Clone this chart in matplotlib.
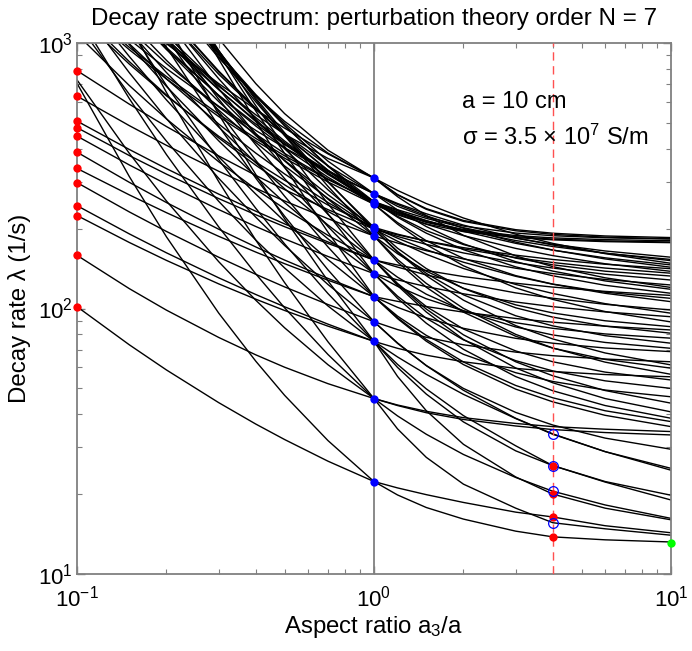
import matplotlib
matplotlib.use("Agg")
import matplotlib.pyplot as plt
from matplotlib.ticker import LogLocator, NullFormatter

plt.rcParams["font.family"] = ["Liberation Sans", "DejaVu Sans"]
plt.rcParams["mathtext.fontset"] = "custom"
plt.rcParams["mathtext.rm"] = "Liberation Sans"
plt.rcParams["mathtext.it"] = "Liberation Sans:italic"
plt.rcParams["mathtext.default"] = "regular"

# ── DATA ────────────────────────────────────────────────────────────────────
ASPECT = [0.1, 0.15, 0.2, 0.3, 0.4, 0.5, 0.7, 1, 1.2, 1.5, 2, 3, 4, 6, 10]

# branches grouped by the sphere decay rate they pass through at a3/a = 1
BR_22 = [
    [101.6, 73.0, 58.7, 44.2, 36.7, 32.1, 26.6, 22.3, 19.85, 17.8, 16.1, 14.5, 13.8, 13.45, 13.2],
    [705, 314.1, 186.3, 96.1, 63.3, 47.1, 31.8, 22.3, 21.1, 19.9, 18.6, 17.1, 16.4, 15.2, 14.3],
]
BR_46 = [
    [158.6, 118.8, 98.6, 77.8, 66.9, 60.1, 52.1, 45.8, 43.3, 41.0, 38.8, 36.9, 35.9, 35.1, 34.4],
    [2891, 1180, 651.6, 300.5, 180.9, 125.2, 74.9, 45.8, 35.2, 27.5, 21.8, 17.7, 15.6, 14.8, 14.0],
    [1291, 617.5, 380.1, 202.9, 135.0, 100.6, 67.1, 45.8, 39.4, 33.6, 28.2, 23.1, 20.5, 18.2, 16.2],
    [726, 384.2, 254.2, 150.1, 107.4, 84.6, 61.4, 45.8, 43.1, 40.5, 38.2, 36.1, 35.0, 34.1, 33.4],
]
BR_75 = [
    [224, 177.3, 151.8, 123.8, 108.4, 98.3, 85.8, 75.2, 70.8, 66.7, 63.0, 59.5, 57.9, 56.4, 55.3],
    [244, 191.0, 162.1, 130.5, 112.9, 101.5, 87.3, 75.2, 65.7, 56.5, 47.5, 38.5, 33.6, 28.9, 24.6],
    [5321, 2163, 1187, 538.6, 319.5, 217.8, 127.0, 75.2, 55.5, 41.2, 30.8, 23.2, 20.0, 17.7, 16.0],
    [2377, 1132, 692.3, 363.7, 238.4, 175.1, 113.8, 75.2, 61.6, 49.8, 39.5, 30.4, 25.6, 22.2, 19.0],
    [1191, 641.0, 427.1, 253.3, 181.0, 142.2, 102.2, 75.2, 60.0, 47.6, 37.4, 29.1, 25.6, 22.3, 19.8],
]
BR_89 = [
    [298, 231.1, 195.1, 156.0, 134.5, 120.6, 103.5, 89.2, 83.3, 77.9, 73.0, 68.5, 66.4, 64.5, 63.0],
    [3548, 1623, 964.3, 486.4, 309.7, 222.6, 139.8, 89.2, 74.2, 60.9, 49.2, 38.6, 33.7, 28.9, 25.0],
    [1413, 772.9, 519.1, 309.3, 220.7, 172.8, 123.1, 89.2, 73.9, 61.0, 50.0, 40.6, 36.4, 32.5, 29.5],
]
BR_111 = [
    [337, 267.9, 229.6, 187.0, 163.1, 147.5, 127.8, 110.8, 101.0, 92.2, 84.2, 77.2, 74.0, 71.0, 68.8],
    [388, 298.7, 250.7, 198.9, 170.5, 152.2, 129.8, 110.8, 106.4, 101.7, 96.9, 91.7, 88.8, 85.8, 83.0],
    [8810, 3569, 1945, 868.6, 507.5, 340.9, 193.7, 110.8, 91.6, 75.3, 61.5, 49.7, 44.5, 39.6, 35.9],
    [3508, 1699, 1047, 552.4, 361.5, 264.9, 170.5, 110.8, 92.3, 76.4, 62.9, 51.3, 46.1, 41.2, 37.5],
    [1567, 889.4, 610.6, 372.9, 269.6, 212.9, 152.8, 110.8, 93.6, 79.2, 67.2, 57.3, 53.1, 49.3, 46.5],
]
BR_135 = [
    [446, 347.3, 294, 235.8, 203.6, 182.9, 157.0, 135.3, 128.2, 120.9, 113.6, 105.8, 101.6, 97.1, 93.1],
    [7603, 3329, 1908, 909.8, 554.1, 383.8, 227.2, 135.3, 109.3, 88.0, 70.2, 55.4, 49.0, 43.1, 38.6],
    [3396, 1742, 1113, 614.3, 413.3, 308.5, 203.5, 135.3, 111.3, 91.9, 76.2, 63.6, 58.2, 53.4, 50.0],
    [1702, 986.1, 686.8, 428.1, 314.0, 250.6, 182.9, 135.3, 121.2, 108.8, 98.0, 88.4, 84.2, 80.2, 77.3],
]
BR_152 = [
    [480, 376.8, 320.8, 259.4, 225.4, 203.3, 175.7, 152.3, 143.2, 133.8, 124.4, 114.5, 109.3, 103.7, 98.7],
    [508, 397.2, 336.4, 269.7, 232.5, 208.3, 178.1, 152.3, 145.8, 139.0, 131.9, 124.5, 120.4, 116.0, 112.0],
    [1079, 691.7, 517.8, 357.1, 281.5, 237.6, 188.6, 152.3, 131.2, 113.2, 98.0, 85.2, 79.5, 74.5, 70.8],
    [7638, 3356, 1937, 938.4, 580.5, 407.8, 247.9, 152.3, 122.0, 97.0, 76.5, 59.7, 52.5, 45.8, 40.8],
    [3828, 1932, 1225, 672.9, 453.2, 339.5, 226.1, 152.3, 123.5, 99.5, 79.6, 63.0, 55.8, 49.1, 44.0],
    [1919, 1111, 774.3, 482.5, 353.9, 282.5, 206.2, 152.3, 124.3, 101.7, 83.7, 69.2, 63.0, 57.6, 53.8],
]
BR_188 = [
    [631, 488.4, 411.8, 328.8, 283.4, 254.1, 217.8, 187.6, 176.4, 165.1, 153.7, 141.8, 135.4, 128.6, 122.6],
    [1327, 850.9, 637, 439, 346.2, 292.3, 232, 187.6, 160.8, 138.2, 119.2, 103.2, 96.2, 89.9, 85.4],
    [5929, 2872, 1770, 933.8, 611.1, 447.7, 288.3, 187.6, 153.0, 124.3, 100.1, 79.9, 71.0, 62.8, 56.5],
    [2648, 1503, 1032, 630.5, 455.8, 359.9, 258.2, 187.6, 149.8, 120.2, 96.9, 78.6, 70.9, 64.3, 59.6],
]
BR_199 = [
    [787, 588.4, 484.7, 375.5, 317.2, 280.4, 235.7, 199, 189.4, 179.6, 169.5, 158.8, 153.0, 146.8, 141.2],
    [1581, 993.3, 732.8, 495.3, 384.8, 321.2, 250.7, 199, 179.2, 160.1, 141.5, 123.2, 113.9, 104.3, 96.0],
    [5610, 2774, 1734, 933.3, 619.7, 459.1, 300.6, 199, 163.1, 132.9, 107.5, 86.2, 76.8, 68.0, 61.3],
    [3540, 1898, 1256, 733.5, 515.9, 399.6, 279.9, 199, 164.0, 135.6, 112.6, 93.9, 86.0, 79.0, 74.0],
    [1991, 1201, 860.8, 558.7, 421.8, 344.3, 259.8, 199, 186.8, 174.4, 161.9, 148.9, 142.0, 134.6, 128.0],
]
BR_202 = [
    [1274, 833.1, 632.5, 445.3, 356.0, 303.9, 245.3, 202, 190.6, 179.3, 167.7, 155.5, 149.0, 142.0, 135.8],
    [5070, 2557, 1622, 890.9, 600.2, 449.5, 299.4, 202, 168.7, 141.4, 119.0, 100.6, 92.8, 85.8, 80.7],
    [2265, 1339, 946.1, 601.7, 447.7, 361.4, 268.2, 202, 184.0, 166.5, 149.4, 132.2, 123.4, 114.1, 106.1],
]
BR_247 = [
    [1390, 943.5, 732.3, 528.4, 428.2, 368.3, 299.6, 247, 225.3, 208.1, 194.8, 185.0, 181.4, 178.6, 177.0],
    [4932, 2506, 1611, 913.3, 634.7, 489.4, 343.3, 247, 207.9, 174.1, 144.9, 119.6, 108.2, 97.4, 89.0],
    [3491, 1917, 1296, 784.6, 568.7, 451.9, 330.3, 247, 210.7, 180.0, 154.4, 133.0, 123.6, 115.2, 109.2],
    [2203, 1334, 962.6, 634.6, 486.6, 402.9, 312.2, 247, 227.3, 207.7, 188.2, 168.4, 158.2, 147.4, 138.0],
    [2472, 1491, 1069, 693.7, 523.7, 427.4, 322.6, 247, 230.7, 214.1, 197.5, 180.3, 171.2, 161.5, 153.0],
]
BR_253 = [
    [1419, 963.3, 747.6, 539.4, 437.1, 376.0, 305.8, 252.5, 229.9, 212.2, 198.4, 188.2, 184.5, 181.7, 180.0],
    [5035, 2515, 1605, 906.0, 630.4, 487.6, 345.1, 252.5, 220.6, 192.2, 166.6, 143.5, 132.8, 122.3, 114.1],
    [3565, 1925, 1292, 778.3, 564.8, 450.3, 332.1, 252.5, 222.5, 196.5, 174.1, 154.8, 146.1, 138.2, 132.5],
    [2523, 1472, 1039, 668.7, 506.0, 415.6, 319.6, 252.5, 233.2, 214.2, 195.3, 176.0, 165.9, 155.2, 145.9],
    [1786, 1126, 836.6, 574.3, 453.3, 383.8, 307.5, 252.5, 235.5, 218.5, 201.5, 183.9, 174.6, 164.7, 156.0],
    [2249, 1384, 1007, 667.1, 510.7, 421.5, 323.6, 252.5, 229.2, 211.0, 196.8, 186.4, 182.6, 179.7, 178.0],
]
BR_271 = [
    [1521, 1032, 801.1, 578.0, 468.4, 402.9, 327.7, 270.6, 242.6, 221.1, 204.4, 192.4, 188.0, 184.6, 182.7],
    [5395, 2607, 1639, 916.6, 639.1, 497.9, 358.8, 270.6, 235.0, 203.5, 175.3, 150.1, 138.3, 127.0, 118.1],
    [3404, 1845, 1246, 762.9, 562.3, 454.9, 344.4, 270.6, 246.6, 223.5, 200.7, 177.8, 166.0, 153.7, 143.0],
    [2148, 1305, 948.3, 635.1, 494.8, 415.5, 330.4, 270.6, 248.7, 227.4, 206.1, 184.6, 173.4, 161.6, 151.4],
]
BR_310 = [
    [1954, 1300, 994.7, 703.3, 561.6, 477.9, 382.2, 310, 268.6, 237.8, 214.6, 198.1, 192.1, 187.6, 185.0],
    [8318, 3470, 2009, 1039, 702.9, 542.0, 394.5, 310, 263.8, 223.8, 188.6, 157.8, 143.8, 130.5, 120.0],
    [4909, 2389, 1522, 879.0, 632.3, 506.9, 384.8, 310, 278.5, 248.4, 219.2, 190.5, 175.9, 160.9, 148.0],
    [2460, 1446, 1035, 687.1, 536.3, 453.6, 367.3, 310, 267.8, 236.4, 212.9, 196.2, 190.2, 185.7, 183.0],
]

# marked points
DISK_RATES = [787, 631, 508, 480, 446, 388, 337, 298, 244, 224, 158.6, 101.6]   # a3/a = 0.1
SPHERE_RATES = [310, 270.6, 252.5, 247, 202, 199, 187.6, 152.3, 135.3,
                110.8, 89.2, 75.2, 45.8, 22.3]                                  # a3/a = 1
X_CHECK = 4
CHECK_RED = [25.6, 20.0, 16.4, 13.8]
CHECK_BLUE = [33.6, 25.6, 20.5, 15.6]
CYL_LIMIT = 13.1                                                                 # a3/a = 10

# ── PLOT ────────────────────────────────────────────────────────────────────
fig = plt.figure(figsize=(6.92, 6.51), dpi=100)
ax = fig.add_axes([77 / 692, 77 / 651, 594 / 692, 531 / 651])

for group in [BR_22, BR_46, BR_75, BR_89, BR_111, BR_135, BR_152,
              BR_188, BR_199, BR_202, BR_247, BR_253, BR_271, BR_310]:
    for rates in group:
        ax.plot(ASPECT, rates, color="black", lw=1.0, zorder=2)

ax.axvline(1, color="#808080", lw=1.3, zorder=3)
ax.axvline(X_CHECK, color="#ff5050", lw=1.0, ls=(0, (6, 4)), zorder=3)

ax.plot([0.1] * len(DISK_RATES), DISK_RATES, "o", color="red", ms=6,
        mec="none", clip_on=False, zorder=5)
ax.plot([1] * len(SPHERE_RATES), SPHERE_RATES, "o", color="blue", ms=6,
        mec="none", clip_on=False, zorder=5)
ax.plot([X_CHECK] * len(CHECK_RED), CHECK_RED, "o", color="red", ms=6,
        mec="none", zorder=5)
ax.plot([X_CHECK] * len(CHECK_BLUE), CHECK_BLUE, "o", mfc="none", mec="blue",
        mew=0.9, ms=7, zorder=6)
ax.plot([10], [CYL_LIMIT], "o", color="#00ff00", ms=6, mec="none",
        clip_on=False, zorder=5)

ax.set_xscale("log")
ax.set_yscale("log")
ax.set_xlim(0.1, 10)
ax.set_ylim(10, 1000)
ax.xaxis.set_major_locator(LogLocator(base=10, numticks=5))
ax.yaxis.set_major_locator(LogLocator(base=10, numticks=5))
ax.xaxis.set_minor_locator(LogLocator(base=10, subs=range(2, 10), numticks=20))
ax.yaxis.set_minor_locator(LogLocator(base=10, subs=range(2, 10), numticks=20))
ax.xaxis.set_minor_formatter(NullFormatter())
ax.yaxis.set_minor_formatter(NullFormatter())

for sp in ax.spines.values():
    sp.set_color("#808080")
    sp.set_linewidth(1.3)
ax.tick_params(which="both", direction="in", top=True, right=True,
               color="#808080", labelcolor="black")
ax.tick_params(which="major", length=6, width=1, labelsize=16)
ax.tick_params(which="minor", length=3.5, width=0.8)
ax.tick_params(axis="x", which="major", pad=8)
ax.tick_params(axis="y", which="major", pad=3)

ax.set_title("Decay rate spectrum: perturbation theory order N = 7",
             fontsize=17.4, pad=13)
ax.set_xlabel("Aspect ratio a$_3$/a", fontsize=17.3, labelpad=2)
ax.set_ylabel("Decay rate λ (1/s)", fontsize=17.3, labelpad=5)

ax.text(0.648, 0.889, "a = 10 cm", transform=ax.transAxes, fontsize=17,
        va="center", ha="left")
ax.text(0.648, 0.823, "σ = 3.5 × 10$^{7}$ S/m", transform=ax.transAxes,
        fontsize=17, va="center", ha="left")

fig.savefig("out.png", dpi=100)
